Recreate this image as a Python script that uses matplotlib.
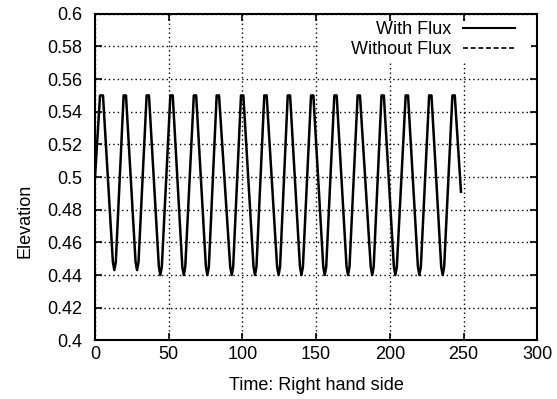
#!/usr/bin/env python3
"""Elevation time series on the right hand side, with / without flux."""

import matplotlib

matplotlib.use("Agg")  # render off-screen
import matplotlib.pyplot as plt  # noqa: E402
from matplotlib.legend import Legend  # noqa: E402
from matplotlib.lines import Line2D  # noqa: E402
from matplotlib.patches import Rectangle  # noqa: E402
from matplotlib.ticker import FuncFormatter  # noqa: E402

# points: start, flat tops, rounded troughs, end
TIME = [
    0.0, 3.4, 5.4,
    12.1, 13.1, 14.1, 19.4, 21.0,
    27.5, 28.5, 29.5, 35.0, 36.6,
    43.3, 44.3, 45.3, 51.1, 52.7,
    59.2, 60.2, 61.2, 67.0, 68.6,
    75.2, 76.2, 77.2, 82.5, 84.1,
    91.7, 92.7, 93.7, 99.0, 100.6,
    107.5, 108.5, 109.5, 114.8, 116.4,
    123.5, 124.5, 125.5, 130.7, 132.3,
    139.0, 140.0, 141.0, 146.5, 148.1,
    154.8, 155.8, 156.8, 162.3, 163.9,
    170.6, 171.6, 172.6, 178.1, 179.7,
    187.0, 188.0, 189.0, 194.3, 195.9,
    202.7, 203.7, 204.7, 210.7, 212.3,
    219.0, 220.0, 221.0, 226.6, 228.2,
    234.8, 235.8, 236.8, 242.4, 244.0,
    248.2,
]
ELEVATION = [
    0.500, 0.550, 0.550,
    0.448, 0.443, 0.448, 0.550, 0.550,
    0.448, 0.443, 0.448, 0.550, 0.550,
    0.445, 0.440, 0.445, 0.550, 0.550,
    0.445, 0.440, 0.445, 0.550, 0.550,
    0.445, 0.440, 0.445, 0.550, 0.550,
    0.445, 0.440, 0.445, 0.550, 0.550,
    0.445, 0.440, 0.445, 0.550, 0.550,
    0.445, 0.440, 0.445, 0.550, 0.550,
    0.445, 0.440, 0.445, 0.550, 0.550,
    0.445, 0.440, 0.445, 0.550, 0.550,
    0.445, 0.440, 0.445, 0.550, 0.550,
    0.445, 0.440, 0.445, 0.550, 0.550,
    0.445, 0.440, 0.445, 0.550, 0.550,
    0.445, 0.440, 0.445, 0.550, 0.550,
    0.445, 0.440, 0.445, 0.550, 0.550,
    0.491,
]
SERIES_LABELS = ["With Flux", "Without Flux"]
X_TICKS = [0, 50, 100, 150, 200, 250, 300]
Y_TICKS = [0.4, 0.42, 0.44, 0.46, 0.48, 0.5, 0.52, 0.54, 0.56, 0.58, 0.6]

FONT_SIZE = 13


def add_key(ax: plt.Axes) -> None:
    # gnuplot style key: right aligned text, sample line after it
    handles = [
        Line2D([], [], color="black", linewidth=1.5),
        Line2D([], [], color="black", linewidth=1.2, linestyle=(0, (3, 1.6))),
    ]
    rows_y = [0.952, 0.891]
    # white patch the key leaves in the grid
    ax.add_patch(
        Rectangle(
            (0.503, 0.852), 0.482, 0.127,
            transform=ax.transAxes, facecolor="white", edgecolor="none", zorder=2,
        )
    )
    for handle, label, y in zip(handles, SERIES_LABELS, rows_y):
        leg = Legend(
            ax,
            [handle],
            [label],
            loc="center right",
            bbox_to_anchor=(0.9496, y),
            bbox_transform=ax.transAxes,
            frameon=False,
            markerfirst=False,
            handlelength=2.9,
            handletextpad=0.65,
            borderpad=0,
            borderaxespad=0,
            fontsize=FONT_SIZE,
        )
        ax.add_artist(leg)


def main() -> None:
    plt.rcParams["font.family"] = ["Liberation Sans", "DejaVu Sans"]
    fig = plt.figure(figsize=(5.57, 3.99), dpi=100)
    ax = fig.add_axes([0.1706, 0.1471, 0.7941, 0.8183])

    ax.plot(TIME, ELEVATION, color="black", linewidth=1.8,
            solid_joinstyle="round", zorder=3)

    ax.set_xlim(X_TICKS[0], X_TICKS[-1])
    ax.set_ylim(Y_TICKS[0], Y_TICKS[-1])
    ax.set_xticks(X_TICKS)
    ax.set_yticks(Y_TICKS)
    ax.yaxis.set_major_formatter(FuncFormatter(lambda v, _: f"{v:g}"))

    ax.grid(True, color="black", linestyle=(0, (1, 2.2)), linewidth=1.0)
    ax.tick_params(direction="in", length=5, width=1.2, top=True, right=True,
                   labelsize=FONT_SIZE)
    ax.tick_params(axis="y", pad=9)
    ax.tick_params(axis="x", pad=4)
    for spine in ax.spines.values():
        spine.set_linewidth(1.5)

    ax.set_xlabel("Time: Right hand side", fontsize=FONT_SIZE, labelpad=10)
    ax.set_ylabel("Elevation", fontsize=FONT_SIZE)
    ax.yaxis.set_label_coords(-0.14, 0.365)

    add_key(ax)

    fig.savefig("out.png", dpi=100)
    plt.close(fig)


if __name__ == "__main__":
    main()
